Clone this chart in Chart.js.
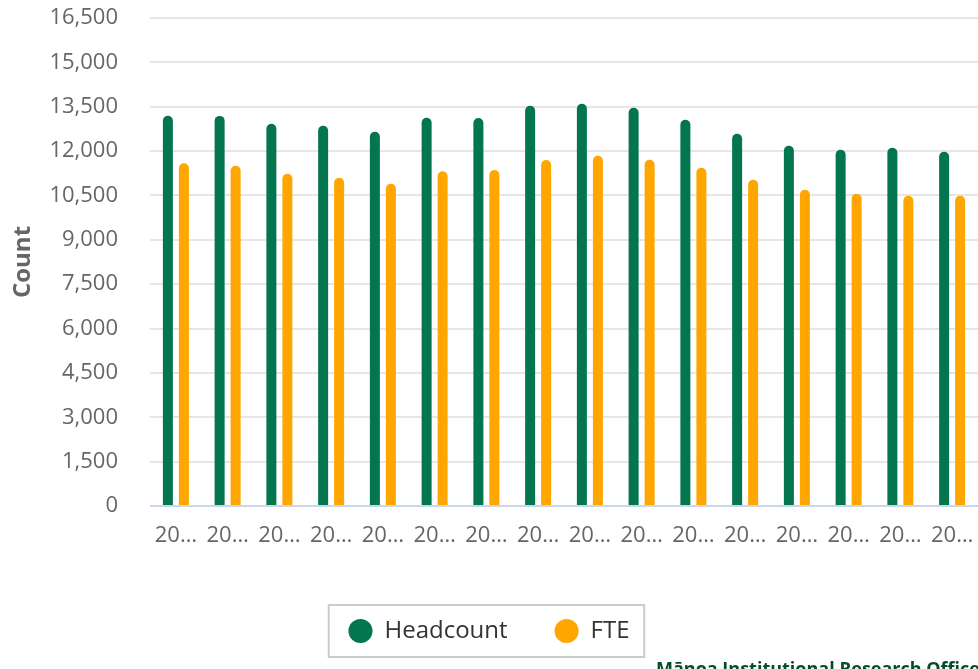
<!DOCTYPE html>
<html>
<head>
<meta charset="utf-8">
<script src="https://cdn.jsdelivr.net/npm/chart.js@4.4.1/dist/chart.umd.min.js"></script>
<style>
  html, body { margin: 0; padding: 0; background: #ffffff; overflow: hidden; }
  #wrap { position: relative; width: 978px; height: 669px; }
  #credit {
    position: absolute; left: 656px; top: 659px; white-space: nowrap;
    font: bold 18px 'Open Sans', sans-serif; line-height: 18px; color: #064b2d;
  }
</style>
</head>
<body>
<div id="wrap">
  <canvas id="c" width="978" height="669"></canvas>
  <div id="credit">Mānoa Institutional Research Office</div>
</div>
<script>
const categories = ['2008','2009','2010','2011','2012','2013','2014','2015','2016','2017','2018','2019','2020','2021','2022','2023'];
const headcount = [13195, 13190, 12926, 12859, 12656, 13130, 13118, 13535, 13602, 13467, 13062, 12589, 12183, 12048, 12115, 11980];
const fte = [11587, 11506, 11236, 11101, 10898, 11316, 11360, 11698, 11845, 11709, 11439, 11033, 10695, 10560, 10493, 10493];
const seriesNames = ['Headcount', 'FTE'];
const yTitle = 'Count';

const FONT = "'Open Sans', sans-serif";
Chart.defaults.font.family = FONT;

const legendBorder = {
  id: 'legendBorder',
  afterDraw(chart) {
    const lg = chart.legend;
    if (!lg || !lg.legendHitBoxes || !lg.legendHitBoxes.length) return;
    const hb = lg.legendHitBoxes;
    const first = hb[0], last = hb[hb.length - 1];
    const cy = first.top + 12;
    const left = first.left - 19.7;
    const right = last.left + last.width + 14.7;
    const ctx = chart.ctx;
    ctx.save();
    ctx.strokeStyle = '#cccccc';
    ctx.lineWidth = 2;
    ctx.strokeRect(left, cy - 26, right - left, 52);
    ctx.restore();
  }
};

new Chart(document.getElementById('c'), {
  type: 'bar',
  data: {
    labels: categories,
    datasets: [
      { label: seriesNames[0], data: headcount, backgroundColor: '#03754f', borderWidth: 0,
        borderRadius: {topLeft: 5, topRight: 5, bottomLeft: 0, bottomRight: 0}, borderSkipped: 'start' },
      { label: seriesNames[1], data: fte, backgroundColor: '#ffa600', borderWidth: 0,
        borderRadius: {topLeft: 5, topRight: 5, bottomLeft: 0, bottomRight: 0}, borderSkipped: 'start' }
    ]
  },
  options: {
    responsive: false,
    animation: false,
    devicePixelRatio: 1,
    categoryPercentage: 32 / 51.75,
    barPercentage: 0.625,
    layout: { padding: { top: 18, left: 0, right: 0, bottom: 16 } },
    scales: {
      x: {
        grid: { display: false, drawTicks: false },
        border: { display: false },
        ticks: {
          color: '#666666', font: { size: 22 }, padding: 17,
          maxRotation: 0, minRotation: 0, autoSkip: false,
          callback: function(v) {
            const l = String(this.getLabelForValue(v));
            return l.length > 3 ? l.slice(0, 2) + '…' : l;
          }
        },
        afterFit(scale) { scale.height = 66; scale.paddingLeft = 0; scale.paddingRight = 0; }
      },
      y: {
        min: 0, max: 16500,
        border: { display: false },
        grid: {
          drawTicks: false, lineWidth: 2,
          color: (ctx) => (ctx.tick && ctx.tick.value === 0) ? '#ccd6eb' : '#e6e6e6'
        },
        ticks: { stepSize: 1500, color: '#666666', font: { size: 22 }, padding: 32 },
        title: { display: true, text: yTitle, color: '#666666', font: { size: 24, weight: 'bold' }, padding: { top: 9, bottom: 0 } },
        afterFit(scale) { scale.width = 150; scale.paddingTop = 0; scale.paddingBottom = 0; }
      }
    },
    plugins: {
      tooltip: { enabled: false },
      legend: {
        position: 'bottom',
        labels: {
          usePointStyle: true, pointStyle: 'circle',
          boxWidth: 24, boxHeight: 17,
          padding: 47,
          color: '#333333',
          font: { size: 24 }
        }
      }
    }
  },
  plugins: [legendBorder]
});
</script>
</body>
</html>
